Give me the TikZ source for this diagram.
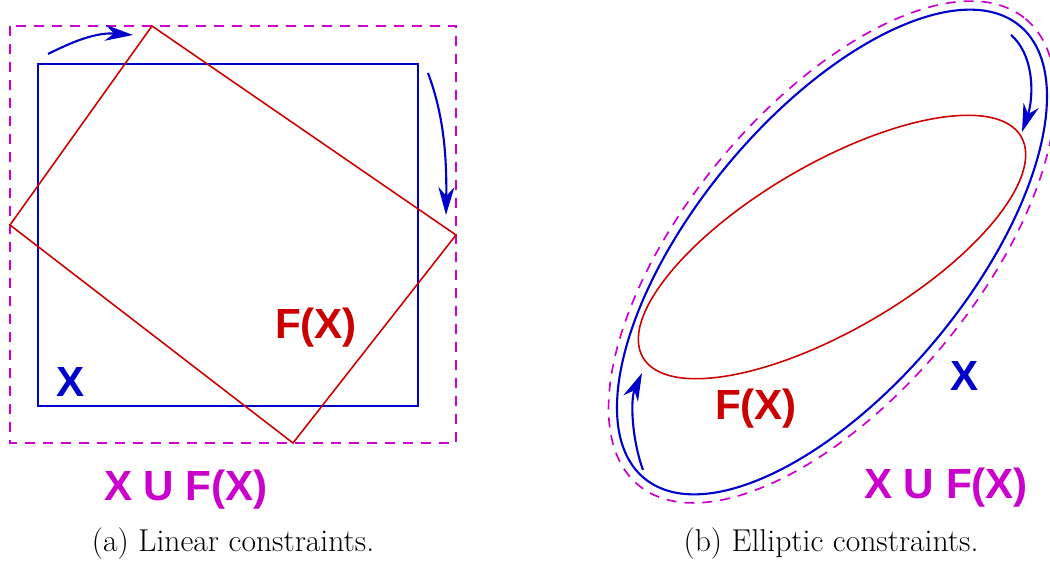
\documentclass[tikz,border=0pt]{standalone}
\usepackage{fontspec}
\usepackage{tikz}
\usetikzlibrary{arrows.meta}
\newfontfamily\labelfont{Liberation Sans}
\definecolor{setblue}{RGB}{0,0,204}
\definecolor{setred}{RGB}{204,0,0}
\definecolor{setmag}{RGB}{204,0,204}
\tikzset{
  setX/.style={setblue, line width=1.2pt},
  setF/.style={setred, line width=0.9pt},
  setU/.style={setmag, line width=0.95pt, dash pattern=on 2mm off 1.6mm},
  flow/.style={setblue, line width=1.2pt, -{Stealth[length=5.6mm, width=3.2mm, inset=1.8mm]}},
  biglab/.style={inner sep=0pt, font=\labelfont\bfseries\fontsize{24}{28}\selectfont},
  caplab/.style={inner sep=0pt, font=\fontsize{18}{21}\selectfont}
}
\begin{document}
\begin{tikzpicture}[x=0.02cm,y=-0.02cm]
\useasboundingbox (0,0) rectangle (1050,563);
% (a) linear constraints
\draw[setU] (10,26) rectangle (456,443);
\draw[setX] (38,64) rectangle (418,406);
\draw[setF] (152,26) -- (456,235) -- (293,443) -- (10,225) -- cycle;
\coordinate (a1s) at (48,54);
\coordinate (a1e) at (133,35);
\coordinate (a2s) at (428,73);
\coordinate (a2e) at (446,215);
\draw[flow] (a1s) .. controls (70,43) and (95,32) .. (a1e);
\draw[flow] (a2s) .. controls (441,108) and (447,145) .. (a2e);
\node[biglab, text=setblue] (xa) at (71,382) {X};
\node[biglab, text=setred] (fxa) at (316,328) {F(X)};
\node[biglab, text=setmag] (ua) at (186,490) {X U F(X)};
\node[caplab] (capa) at (233,544) {(a) Linear constraints.};
% (b) elliptic constraints
\coordinate (cb) at (832,252);
\draw[setU, rotate around={50.3:(cb)}] (cb) ellipse [x radius=303, y radius=145];
\draw[setX, rotate around={50.3:(cb)}] (cb) ellipse [x radius=294, y radius=136];
\coordinate (cf) at (832,247);
\draw[setF, rotate around={30.3:(cf)}] (cf) ellipse [x radius=219, y radius=83];
\coordinate (b1s) at (1011,35);
\coordinate (b1e) at (1022,132);
\coordinate (b2s) at (643,470);
\coordinate (b2e) at (642,373);
\draw[flow] (b1s) .. controls (1036,57) and (1033,100) .. (b1e);
\draw[flow] (b2s) .. controls (632,440) and (630,400) .. (b2e);
\node[biglab, text=setblue] (xb) at (965,376) {X};
\node[biglab, text=setred] (fxb) at (756,409) {F(X)};
\node[biglab, text=setmag] (ub) at (946,488) {X U F(X)};
\node[caplab] (capb) at (831,544) {(b) Elliptic constraints.};
\end{tikzpicture}
\end{document}
